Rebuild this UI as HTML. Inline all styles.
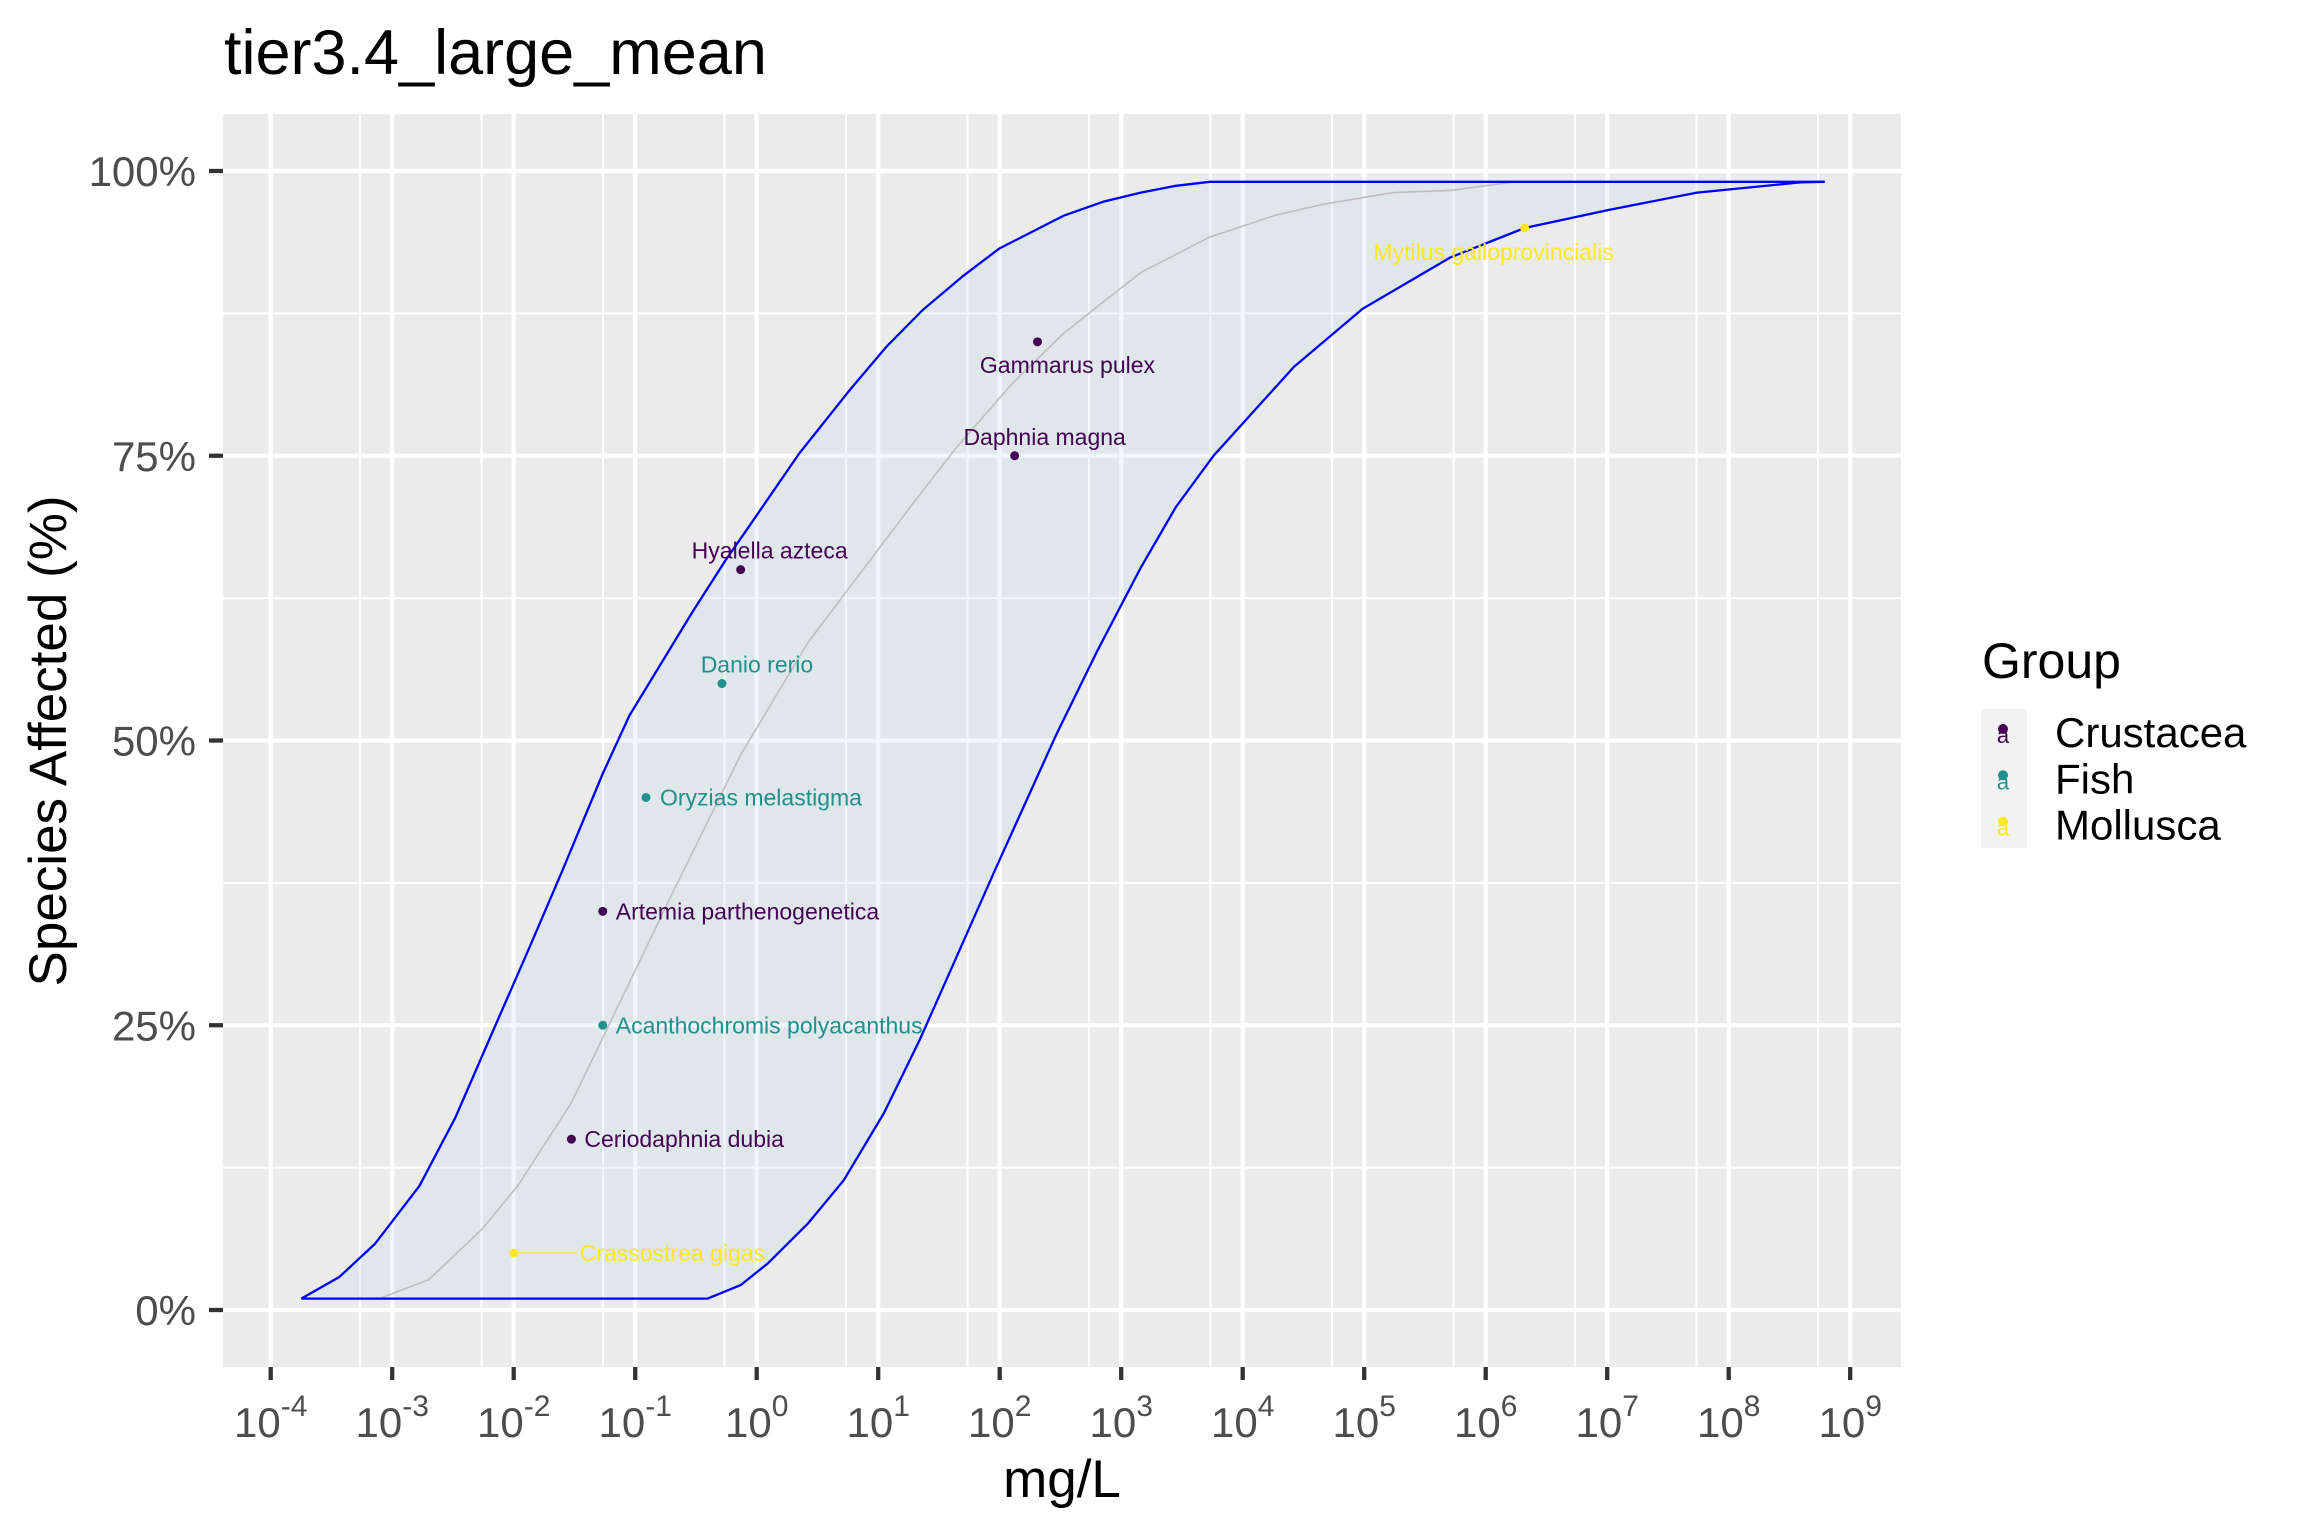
<!DOCTYPE html>
<html><head><meta charset="utf-8"><style>
html,body{margin:0;padding:0;background:#fff;}
svg{display:block;font-family:"Liberation Sans",Arial,sans-serif;}
</style></head><body>
<svg id="chart" width="2304" height="1536" viewBox="0 0 2304 1536" xmlns="http://www.w3.org/2000/svg">
<rect x="0" y="0" width="2304" height="1536" fill="#fff"/>
<text x="224" y="74" font-size="63" fill="#000">tier3.4_large_mean</text>
<g id="panel"></g>
<g id="axes"></g>
<text transform="translate(66,741) rotate(-90)" text-anchor="middle" font-size="53" fill="#000">Species Affected (%)</text>
<text x="1062" y="1497" text-anchor="middle" font-size="53" fill="#000">mg/L</text>
<g id="legend">
<text x="1982" y="678" font-size="50" fill="#000">Group</text>
<rect x="1981" y="709" width="46" height="139" fill="#F2F2F2"/>
</g>
</svg>
<script>
// ---- data ----
const upperLog = [-3.748,-3.435,-3.142,-2.775,-2.48,-2.187,-1.855,-1.598,-1.267,-1.047,-0.533,-0.258,-0.082,0.35,0.768,1.07,1.366,1.7,1.997,2.532,2.85,3.162,3.45,3.728,8.79];
const upperPct = [1,2.9,5.8,10.9,16.9,24.1,32.2,38.6,47.1,52.2,61.2,65.8,68.5,75.2,80.8,84.6,87.8,90.8,93.2,96.1,97.3,98.1,98.7,99.05,99.05];
const lowerLog = [-3.748,-0.404,-0.129,0.092,0.422,0.717,1.048,1.341,1.591,1.965,2.469,2.8,3.162,3.45,3.76,4.421,4.988,5.706,6.32,7.02,7.74,8.59,8.79];
const lowerPct = [1,1,2.2,4.1,7.6,11.4,17.3,23.7,29.7,38.7,50.6,57.8,65.2,70.5,75.0,82.8,87.9,92.4,95.0,96.6,98.1,99.0,99.05];
const midLog = [-3.105,-2.70,-2.26,-1.966,-1.525,-1.158,-0.68,-0.129,0.422,0.974,1.3,1.65,2.1,2.532,3.162,3.728,4.264,4.673,5.24,5.706,6.24];
const midPct = [1,2.65,7.1,10.9,18.2,26.3,36.9,48.8,58.6,66.4,71.0,75.8,81.3,85.8,91.1,94.2,96.1,97.1,98.1,98.3,99.05];
const speciesNames = ["Crassostrea gigas","Ceriodaphnia dubia","Acanthochromis polyacanthus","Artemia parthenogenetica","Oryzias melastigma","Danio rerio","Hyalella azteca","Daphnia magna","Gammarus pulex","Mytilus galloprovincialis"];
const speciesLog = [-2.0,-1.525,-1.267,-1.267,-0.911,-0.286,-0.132,2.123,2.311,6.32];
const speciesPct = [5,15,25,35,45,55,65,75,85,95];
const speciesGroup = ["Mollusca","Crustacea","Fish","Crustacea","Fish","Fish","Crustacea","Crustacea","Crustacea","Mollusca"];
const groups = ["Crustacea","Fish","Mollusca"];
const xTickExp = [-4,-3,-2,-1,0,1,2,3,4,5,6,7,8,9];
const yTicks = [0,25,50,75,100];
const yTickLabels = ["0%","25%","50%","75%","100%"];

// ---- layout ----
const PL=223, PR=1901, PT=114, PB=1367;
const colors={Crustacea:"#440154",Fish:"#21908C",Mollusca:"#FDE725"};
const labelStyle=[["start",66,0],["start",13,0],["start",13,0],["start",13,0],["start",14,0],["middle",35,-19],["middle",29,-19],["middle",30,-19],["middle",30,23],["middle",-31,24]];
function X(l){return 270.7+(l+4)*121.5;}
function Y(p){return 1310-p*11.39;}
const NS="http://www.w3.org/2000/svg";
function mk(tag,attrs,parent){const e=document.createElementNS(NS,tag);for(const k in attrs)e.setAttribute(k,attrs[k]);parent.appendChild(e);return e;}
const panel=document.getElementById('panel'), axes=document.getElementById('axes'), legend=document.getElementById('legend');

let bg=mk('rect',{x:PL,y:PT,width:PR-PL,height:PB-PT,fill:'#EBEBEB'},panel);


for(const e of xTickExp){const xm=X(e+0.735);if(xm>PL&&xm<PR){const l=mk('line',{x1:xm,x2:xm,y1:PT,y2:PB,stroke:'#fff','stroke-width':2},panel);

}}
for(let i=0;i<yTicks.length-1;i++){const ym=Y((yTicks[i]+yTicks[i+1])/2);const l=mk('line',{x1:PL,x2:PR,y1:ym,y2:ym,stroke:'#fff','stroke-width':2},panel);

}
for(const e of xTickExp){const xm=X(e);const l=mk('line',{x1:xm,x2:xm,y1:PT,y2:PB,stroke:'#fff','stroke-width':4.3},panel);

}
for(const t of yTicks){const ym=Y(t);const l=mk('line',{x1:PL,x2:PR,y1:ym,y2:ym,stroke:'#fff','stroke-width':4.3},panel);

}
let pts=[];
for(let i=0;i<upperLog.length;i++)pts.push(X(upperLog[i]).toFixed(1)+','+Y(upperPct[i]).toFixed(1));
for(let i=lowerLog.length-1;i>=0;i--)pts.push(X(lowerLog[i]).toFixed(1)+','+Y(lowerPct[i]).toFixed(1));
const band=mk('polygon',{points:pts.join(' '),fill:'rgb(173,216,230)','fill-opacity':0.2,stroke:'none'},panel);


function line(lx,ly,stroke,w,name){const p=[];for(let i=0;i<lx.length;i++)p.push(X(lx[i]).toFixed(1)+','+Y(ly[i]).toFixed(1));
const pl=mk('polyline',{points:p.join(' '),fill:'none',stroke:stroke,'stroke-width':w,'stroke-linejoin':'round'},panel);

}
line(midLog,midPct,'#BEBEBE',1.6,'fitted-ssd-curve');
line(upperLog,upperPct,'#0000FF',2.3,'upper-confidence-line');
line(lowerLog,lowerPct,'#0000FF',2.3,'lower-confidence-line');
for(let i=0;i<speciesNames.length;i++){
 const cx=X(speciesLog[i]), cy=Y(speciesPct[i]), c=colors[speciesGroup[i]], st=labelStyle[i];
 if(i===0){const seg=mk('line',{x1:cx,y1:cy,x2:cx+st[1]-3,y2:cy,stroke:c,'stroke-width':1.5},panel);
 
 }
 const pt=mk('circle',{cx:cx,cy:cy,r:4.5,fill:c},panel);
 
 
 const t=mk('text',{x:cx+st[1],y:cy+st[2]+8,'text-anchor':st[0],'font-size':23,fill:c},panel);
 t.textContent=speciesNames[i];
 
 
}
for(let i=0;i<yTicks.length;i++){const ym=Y(yTicks[i]);
 const tk=mk('line',{x1:209,x2:PL,y1:ym,y2:ym,stroke:'#333','stroke-width':4.3},axes);
 
 
 const t=mk('text',{x:196,y:ym+15,'text-anchor':'end','font-size':42,fill:'#4D4D4D'},axes);
 t.textContent=yTickLabels[i];
 
 }
for(const e of xTickExp){const xm=X(e);
 const tk=mk('line',{x1:xm,x2:xm,y1:PB,y2:PB+13,stroke:'#333','stroke-width':4.3},axes);
 
 
 const t=mk('text',{x:xm,y:1437,'text-anchor':'middle','font-size':42,fill:'#4D4D4D'},axes);
 
 
 const a=mk('tspan',{},t);a.textContent='10';
 const b=mk('tspan',{dy:-21,'font-size':30},t);b.textContent=String(e);}
for(let i=0;i<groups.length;i++){const cy=732+i*46.3;
 const d=mk('circle',{cx:2003,cy:cy-3,r:5,fill:colors[groups[i]]},legend);
 
 
 const a=mk('text',{x:2003,y:cy+11,'text-anchor':'middle','font-size':22,fill:colors[groups[i]]},legend);
 a.textContent='a';
 
 
 const t=mk('text',{x:2055,y:cy+15,'font-size':42,fill:'#000'},legend);
 t.textContent=groups[i];
 
 }
</script>
</body></html>
